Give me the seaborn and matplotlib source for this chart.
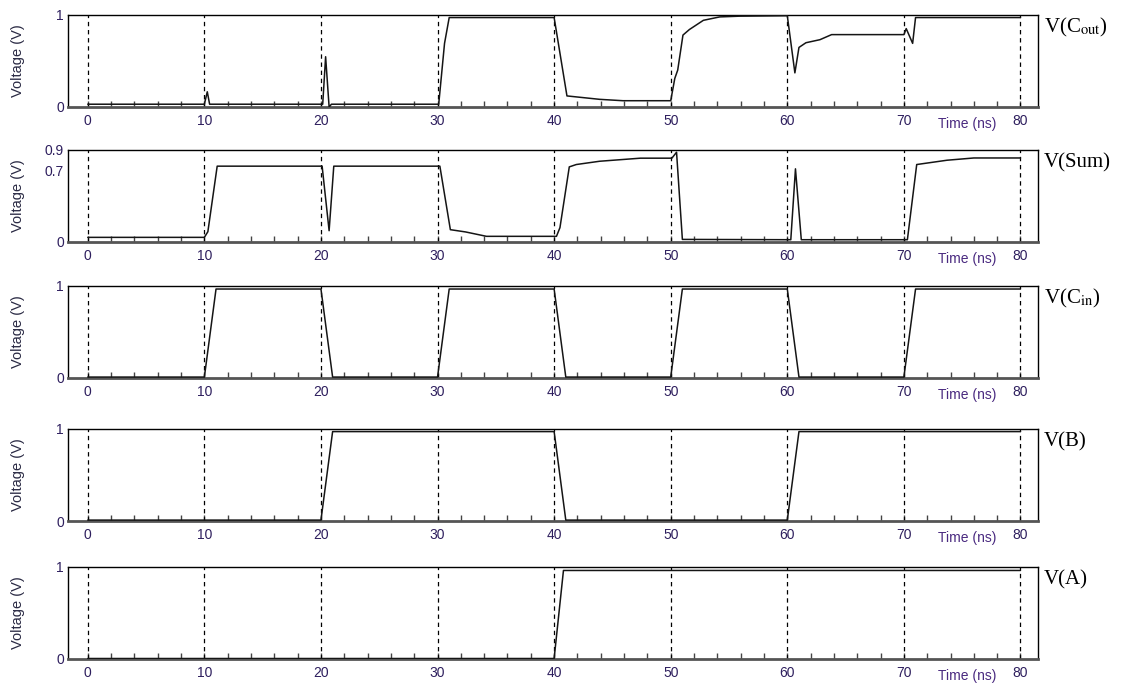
import matplotlib
matplotlib.use('Agg')
import matplotlib.pyplot as plt
import seaborn as sns
import pandas as pd
from matplotlib.ticker import MultipleLocator, FixedLocator

sns.set_theme(style='ticks')
plt.rcParams['font.family'] = ['Liberation Sans', 'DejaVu Sans']
plt.rcParams['mathtext.fontset'] = 'stix'

# ---------------- data (time in ns, voltage in V) ----------------
time_cout = [0, 10.0, 10.25, 10.45, 20.15, 20.4, 20.7, 20.9, 30.1, 30.6, 31.0, 40.0, 41.1, 43.9, 45.9,
             50.0, 50.35, 50.6, 51.05, 51.6, 52.8, 54.2, 55.9, 60.0, 60.65, 61.0, 61.6, 62.8, 63.8,
             70.0, 70.2, 70.75, 71.0, 80.0]
volt_cout = [0.03, 0.03, 0.165, 0.03, 0.03, 0.545, 0.0, 0.03, 0.03, 0.69, 0.97, 0.97, 0.12, 0.083, 0.068,
             0.068, 0.31, 0.40, 0.78, 0.84, 0.94, 0.977, 0.985, 0.99, 0.37, 0.646, 0.697, 0.73, 0.785,
             0.785, 0.85, 0.69, 0.97, 0.97]

time_sum = [0, 10.0, 10.3, 11.1, 20.1, 20.7, 21.1, 30.2, 31.1, 32.4, 34.2, 40.2, 40.5, 41.3, 41.9,
            43.9, 47.4, 50.1, 50.5, 51.0, 60.3, 60.7, 61.2, 70.3, 71.1, 73.7, 76.0, 80.0]
volt_sum = [0.045, 0.045, 0.10, 0.74, 0.74, 0.11, 0.74, 0.74, 0.12, 0.098, 0.055, 0.055, 0.14, 0.733, 0.756,
            0.788, 0.818, 0.818, 0.876, 0.025, 0.022, 0.714, 0.022, 0.022, 0.756, 0.798, 0.82, 0.82]

time_cin = [0, 10, 11, 20, 21, 30, 31, 40, 41, 50, 51, 60, 61, 70, 71, 80]
volt_cin = [0.01, 0.01, 0.965, 0.965, 0.01, 0.01, 0.965, 0.965, 0.01, 0.01, 0.965, 0.965, 0.01, 0.01, 0.965, 0.965]

time_b = [0, 20, 21, 40, 41, 60, 61, 80]
volt_b = [0.01, 0.01, 0.97, 0.97, 0.01, 0.01, 0.97, 0.97]

time_a = [0, 40.0, 40.8, 80]
volt_a = [0.005, 0.005, 0.96, 0.96]

signal_labels = [r'V(C$_{\mathrm{out}}$)', 'V(Sum)', r'V(C$_{\mathrm{in}}$)', 'V(B)', 'V(A)']
y_tops = [1.0, 0.9, 1.0, 1.0, 1.0]
y_ticks = [[0, 1], [0, 0.7, 0.9], [0, 1], [0, 1], [0, 1]]
y_ticklabels = [['0', '1'], ['0', '0.7', '0.9'], ['0', '1'], ['0', '1'], ['0', '1']]
x_ticks = [0, 10, 20, 30, 40, 50, 60, 70, 80]
x_ticklabels = ['0', '10', '20', '30', '40', '50', '60', '70', '80']

series = [(time_cout, volt_cout), (time_sum, volt_sum), (time_cin, volt_cin),
          (time_b, volt_b), (time_a, volt_a)]

# ---------------- figure ----------------
fig = plt.figure(figsize=(11.27, 6.88), dpi=100)
fig.patch.set_facecolor('white')
bottoms = [0.8445, 0.6483, 0.4506, 0.2427, 0.0422]
left, width, height = 0.0603, 0.8607, 0.1340

tick_col = '#2e1f5e'
for i, ((t, v), lab) in enumerate(zip(series, signal_labels)):
    ax = fig.add_axes([left, bottoms[i], width, height])
    ax.set_facecolor('white')
    df = pd.DataFrame({'t': t, 'v': v})
    # dashed vertical grid
    for xt in x_ticks:
        ax.axvline(xt, color='black', lw=0.9, ls=(0, (3.5, 3)), zorder=1)
    sns.lineplot(data=df, x='t', y='v', ax=ax, color='#151515', lw=1.1,
                 estimator=None, sort=False, zorder=3)
    ax.set_xlim(-1.7, 81.5)
    ax.set_ylim(0, y_tops[i])
    ax.xaxis.set_major_locator(FixedLocator(x_ticks))
    ax.set_xticklabels(x_ticklabels)
    ax.xaxis.set_minor_locator(MultipleLocator(2))
    ax.set_yticks(y_ticks[i])
    ax.set_yticklabels(y_ticklabels[i])
    ax.tick_params(axis='x', which='both', direction='in', length=4, width=1,
                   color='#444444', labelsize=10, labelcolor=tick_col, pad=5,
                   top=False, bottom=True)
    ax.tick_params(axis='y', which='both', length=0, labelsize=10,
                   labelcolor=tick_col, pad=3)
    for side in ['top', 'left', 'right']:
        ax.spines[side].set_color('black')
        ax.spines[side].set_linewidth(1.0)
    ax.spines['bottom'].set_color('#555555')
    ax.spines['bottom'].set_linewidth(2.0)
    ax.set_xlabel('')
    ax.set_ylabel('Voltage (V)', fontsize=10.5, color='#2a2a44')
    ax.yaxis.set_label_coords(-0.044, 0.5)
    ax.annotate('Time (ns)', xy=(75.4, 0), xycoords=('data', 'axes fraction'),
                xytext=(0, -17), textcoords='offset pixels', ha='center', va='center',
                fontsize=10, color='#4a2a80')
    ax.annotate(lab, xy=(1.006, 1.0), xycoords='axes fraction',
                xytext=(0, -13), textcoords='offset pixels', ha='left', va='center',
                fontsize=15, color='black', family=['Liberation Serif', 'DejaVu Serif'])

fig.savefig('out.png', dpi=100, facecolor='white')
